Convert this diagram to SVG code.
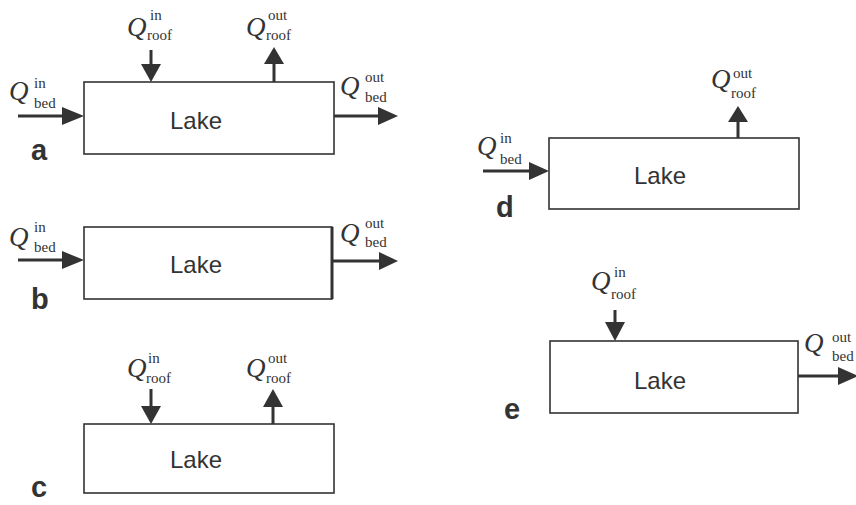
<svg xmlns="http://www.w3.org/2000/svg" width="856" height="505" viewBox="0 0 856 505">
<style>
.box{fill:#fff;stroke:#333;stroke-width:1.6}
.lake{font-family:"Liberation Sans",Arial,sans-serif;font-size:24px;fill:#333;text-anchor:middle}
.lbl{font-family:"Liberation Sans",Arial,sans-serif;font-size:29px;font-weight:bold;fill:#333}
.q{font-family:"Liberation Serif","Times New Roman",serif;font-size:27px;font-style:italic;fill:#333}
.s{font-family:"Liberation Serif","Times New Roman",serif;font-size:15px;fill:#333}
.ln{stroke:#333;stroke-width:3;fill:none}
.hd{fill:#333}
</style>
<rect width="856" height="505" fill="#fff"/>

<!-- Panel a -->
<g id="a">
<rect class="box" x="84" y="82" width="250" height="72"/>
<text class="lake" x="196" y="129">Lake</text>
<text class="lbl" x="31" y="160">a</text>
</g>
<!-- Panel b -->
<g id="b">
<rect class="box" x="84" y="227" width="248" height="72"/>
<line x1="332" y1="227" x2="332" y2="299" stroke="#333" stroke-width="3"/>
<text class="lake" x="196" y="273">Lake</text>
<text class="lbl" x="31" y="309">b</text>
</g>
<!-- Panel c -->
<g id="c">
<rect class="box" x="84" y="424" width="250" height="69"/>
<text class="lake" x="196" y="468">Lake</text>
<text class="lbl" x="31" y="497">c</text>
</g>
<!-- Panel d -->
<g id="d">
<rect class="box" x="549" y="138" width="250" height="71"/>
<text class="lake" x="660" y="184">Lake</text>
<text class="lbl" x="496" y="217">d</text>
</g>
<!-- Panel e -->
<g id="e">
<rect class="box" x="550" y="341" width="248" height="72"/>
<text class="lake" x="660" y="389">Lake</text>
<text class="lbl" x="504" y="419">e</text>
</g>

<!-- labels -->
<g id="labels">
<!-- a -->
<text class="q" x="9" y="100">Q</text><text class="s" x="34" y="88">in</text><text class="s" x="34" y="108">bed</text>
<text class="q" x="127" y="36">Q</text><text class="s" x="150" y="20">in</text><text class="s" x="147" y="40">roof</text>
<text class="q" x="246" y="36">Q</text><text class="s" x="268" y="20">out</text><text class="s" x="266" y="40">roof</text>
<text class="q" x="340" y="95">Q</text><text class="s" x="365" y="82">out</text><text class="s" x="365" y="102">bed</text>
<!-- b -->
<text class="q" x="9" y="246">Q</text><text class="s" x="34" y="232">in</text><text class="s" x="34" y="252">bed</text>
<text class="q" x="340" y="242">Q</text><text class="s" x="365" y="228">out</text><text class="s" x="365" y="247">bed</text>
<!-- c -->
<text class="q" x="127" y="377">Q</text><text class="s" x="148" y="363">in</text><text class="s" x="146" y="383">roof</text>
<text class="q" x="246" y="377">Q</text><text class="s" x="268" y="363">out</text><text class="s" x="266" y="383">roof</text>
<!-- d -->
<text class="q" x="477" y="155">Q</text><text class="s" x="500" y="143">in</text><text class="s" x="500" y="164">bed</text>
<text class="q" x="711" y="88">Q</text><text class="s" x="733" y="78">out</text><text class="s" x="731" y="98">roof</text>
<!-- e -->
<text class="q" x="591" y="290">Q</text><text class="s" x="614" y="277">in</text><text class="s" x="611" y="299">roof</text>
<text class="q" x="804" y="352">Q</text><text class="s" x="832" y="342">out</text><text class="s" x="832" y="361">bed</text>
</g>

<!-- connectors -->
<g id="connectors">
<!-- a -->
<line class="ln" x1="18" y1="116" x2="66" y2="116"/><polygon class="hd" points="62,107 84,116 62,125"/>
<line class="ln" x1="151" y1="50" x2="151" y2="66"/><polygon class="hd" points="141,64 161,64 151,82"/>
<line class="ln" x1="274" y1="82" x2="274" y2="62"/><polygon class="hd" points="264,64 284,64 274,47"/>
<line class="ln" x1="334" y1="116" x2="381" y2="116"/><polygon class="hd" points="378,107 398,116 378,125"/>
<!-- b -->
<line class="ln" x1="18" y1="260" x2="66" y2="260"/><polygon class="hd" points="62,251 84,260 62,269"/>
<line class="ln" x1="333" y1="261" x2="381" y2="261"/><polygon class="hd" points="379,252 398,261 379,270"/>
<!-- c -->
<line class="ln" x1="151" y1="389" x2="151" y2="408"/><polygon class="hd" points="141,406 161,406 151,424"/>
<line class="ln" x1="273" y1="424" x2="273" y2="405"/><polygon class="hd" points="263,407 283,407 273,389"/>
<!-- d -->
<line class="ln" x1="483" y1="171" x2="532" y2="171"/><polygon class="hd" points="529,162 549,171 529,180"/>
<line class="ln" x1="738" y1="138" x2="738" y2="120"/><polygon class="hd" points="728,122 748,122 738,106"/>
<!-- e -->
<line class="ln" x1="615" y1="310" x2="615" y2="324"/><polygon class="hd" points="605,322 625,322 615,341"/>
<line class="ln" x1="798" y1="376" x2="842" y2="376"/><polygon class="hd" points="838,367 858,376 838,385"/>
</g>
</svg>
